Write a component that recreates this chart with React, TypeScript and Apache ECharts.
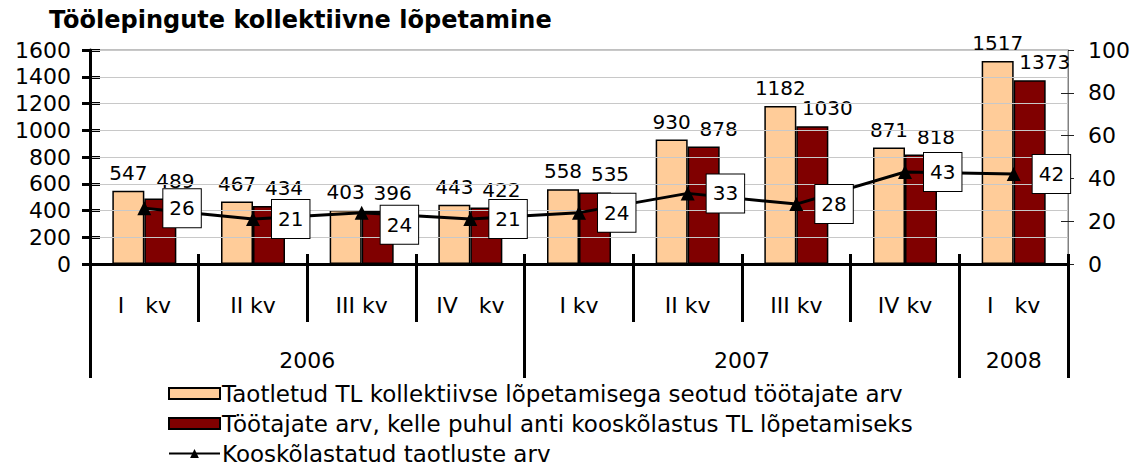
import React, { useEffect, useRef } from "react";
import * as echarts from "echarts";

const titleText = "Töölepingute kollektiivne lõpetamine";
const quarters = ["I   kv", "II kv", "III kv", "IV   kv", "I kv", "II kv", "III kv", "IV kv", "I   kv"];
const yearLabels = ["2006", "2007", "2008"];
const yearSpans = [4, 4, 1];
const seriesNames = [
  "Taotletud TL kollektiivse lõpetamisega seotud töötajate arv",
  "Töötajate arv, kelle puhul anti kooskõlastus TL lõpetamiseks",
  "Kooskõlastatud taotluste arv",
];
const requested = [547, 467, 403, 443, 558, 930, 1182, 871, 1517];
const approved = [489, 434, 396, 422, 535, 878, 1030, 818, 1373];
const agreed = [26, 21, 24, 21, 24, 33, 28, 43, 42];
const leftAxis = { min: 0, max: 1600, interval: 200 };
const rightAxis = { min: 0, max: 100, interval: 20 };

const FONT = "DejaVu Sans";

export default function App() {
  const ref = useRef<HTMLDivElement>(null);
  useEffect(() => {
    document.body.style.margin = "0";
    if (!ref.current) return;
    const chart = echarts.init(ref.current, null, { renderer: "svg" });

    const bounds: number[] = [0];
    const centers: number[] = [];
    let acc = 0;
    yearSpans.forEach((s) => {
      centers.push(acc + s / 2);
      acc += s;
      bounds.push(acc);
    });
    const yearAt = (v: number) => {
      const i = centers.findIndex((c) => Math.abs(c - v) < 1e-6);
      return i >= 0 ? yearLabels[i] : "";
    };

    const option: any = {
      animation: false,
      textStyle: { fontFamily: FONT, color: "#000" },
      title: {
        text: titleText,
        left: 49,
        top: 8,
        padding: 0,
        textStyle: { fontFamily: FONT, fontSize: 24, fontWeight: "bold", color: "#000" },
      },
      grid: {
        left: 90,
        right: 64,
        top: 50,
        bottom: 206,
        show: true,
        borderColor: "#808080",
        borderWidth: 1,
        backgroundColor: "transparent",
      },
      legend: {
        orient: "vertical",
        left: 168,
        top: 382,
        height: 88,
        padding: 0,
        itemWidth: 51,
        itemHeight: 11,
        itemGap: 7,
        textStyle: { fontFamily: FONT, fontSize: 23, color: "#000", lineHeight: 23, padding: [0, 0, 0, -3] },
        data: [
          { name: seriesNames[0], icon: "rect" },
          { name: seriesNames[1], icon: "rect" },
          { name: seriesNames[2] },
        ],
      },
      xAxis: [
        {
          type: "category",
          position: "bottom",
          offset: 0,
          data: quarters,
          boundaryGap: true,
          axisLine: { show: true, lineStyle: { color: "#000", width: 3 } },
          axisTick: { show: true, interval: 0, length: 58, lineStyle: { color: "#000", width: 3 } },
          axisLabel: { interval: 0, fontSize: 22, color: "#000", margin: 30, fontFamily: FONT },
          splitLine: { show: false },
          z: 5,
        },
        {
          type: "category",
          position: "bottom",
          offset: 0,
          data: quarters,
          boundaryGap: true,
          axisLine: { show: false },
          axisTick: { show: true, inside: true, interval: 0, length: 10, lineStyle: { color: "#000", width: 3 } },
          axisLabel: { show: false },
          splitLine: { show: false },
        },
        {
          type: "value",
          position: "bottom",
          offset: 0,
          min: 0,
          max: bounds[bounds.length - 1],
          axisLine: { show: false },
          axisTick: { show: true, customValues: bounds, length: 114, lineStyle: { color: "#000", width: 3 } },
          axisLabel: {
            customValues: centers,
            formatter: (v: number) => yearAt(v),
            fontSize: 22,
            color: "#000",
            margin: 85,
            fontFamily: FONT,
          },
          splitLine: { show: false },
        },
      ],
      yAxis: [
        {
          type: "value",
          position: "left",
          offset: 0,
          ...leftAxis,
          axisLine: { show: true, lineStyle: { color: "#000", width: 3 } },
          axisTick: { show: true, length: 8, lineStyle: { color: "#000", width: 3 } },
          axisLabel: {
            fontSize: 22,
            color: "#000",
            margin: 19,
            fontFamily: FONT,
            formatter: (v: number) => String(v),
          },
          splitLine: { show: true, lineStyle: { color: "#c8c8c8", width: 1 } },
          z: 5,
        },
        {
          type: "value",
          position: "left",
          offset: 0,
          ...leftAxis,
          axisLine: { show: false },
          axisTick: { show: true, inside: true, length: 10, lineStyle: { color: "#000", width: 3 } },
          axisLabel: { show: false },
          splitLine: { show: false },
        },
        {
          type: "value",
          position: "right",
          offset: 0,
          ...rightAxis,
          axisLine: { show: true, lineStyle: { color: "#808080", width: 1 } },
          axisTick: { show: true, length: 6, lineStyle: { color: "#222", width: 1 } },
          axisLabel: { fontSize: 22, color: "#000", margin: 20, fontFamily: FONT, align: "left" },
          splitLine: { show: false },
        },
        {
          type: "value",
          position: "right",
          offset: 0,
          ...rightAxis,
          axisLine: { show: false },
          axisTick: { show: true, inside: true, length: 7, lineStyle: { color: "#222", width: 1 } },
          axisLabel: { show: false },
          splitLine: { show: false },
        },
      ],
      series: [
        {
          name: seriesNames[0],
          type: "bar",
          xAxisIndex: 0,
          yAxisIndex: 0,
          data: requested,
          barWidth: 32,
          barGap: "0%",
          itemStyle: { color: "#FFCC99", borderColor: "#000", borderWidth: 1.5 },
          label: {
            show: true,
            position: "top",
            distance: 8,
            fontSize: 20,
            color: "#000",
            fontFamily: FONT,
          },
        },
        {
          name: seriesNames[1],
          type: "bar",
          xAxisIndex: 0,
          yAxisIndex: 0,
          data: approved,
          barWidth: 32,
          barGap: "0%",
          itemStyle: { color: "#800000", borderColor: "#000", borderWidth: 1.5 },
          label: {
            show: true,
            position: "top",
            distance: 8,
            offset: [15, 0],
            fontSize: 20,
            color: "#000",
            fontFamily: FONT,
          },
        },
        {
          name: seriesNames[2],
          type: "line",
          xAxisIndex: 0,
          yAxisIndex: 2,
          data: agreed.map((v, i) => (i === 2 ? { value: v, label: { offset: [0, 12] } } : v)),
          symbol: "triangle",
          symbolSize: 14,
          itemStyle: { color: "#000" },
          lineStyle: { color: "#000", width: 3 },
          z: 10,
          label: {
            show: true,
            position: "right",
            distance: 12,
            fontSize: 20,
            lineHeight: 24,
            color: "#000",
            fontFamily: FONT,
            backgroundColor: "#fff",
            borderColor: "#000",
            borderWidth: 1,
            padding: [7, 6, 7, 6],
          },
        },
      ],
    };
    chart.setOption(option);
    return () => chart.dispose();
  }, []);
  return (
    <div
      ref={ref}
      style={{ width: 1133, height: 470, position: "absolute", left: 0, top: 0 }}
    />
  );
}
